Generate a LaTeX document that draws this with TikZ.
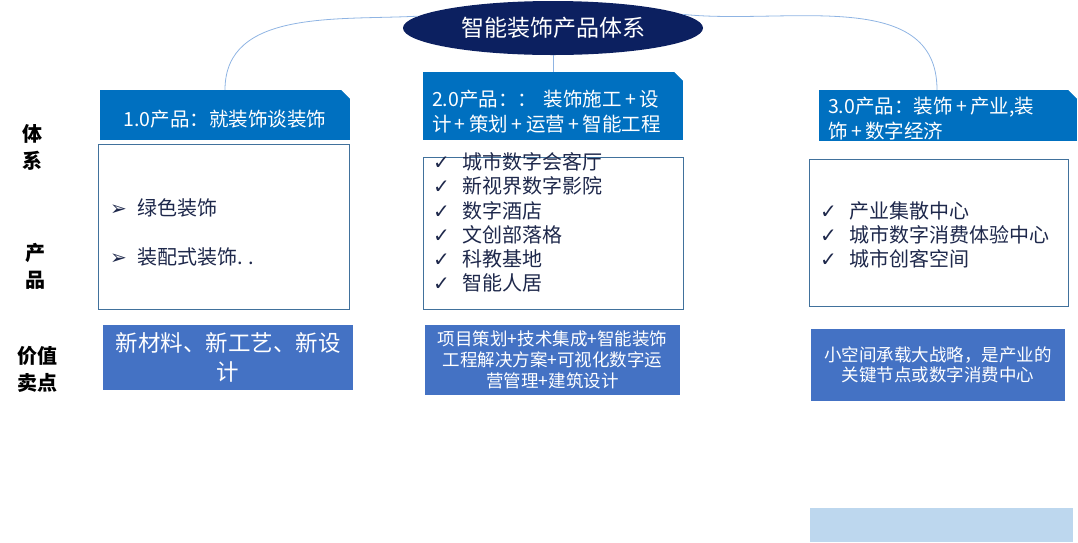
\documentclass[tikz,border=0pt]{standalone}
\usepackage{fontspec}
\setmainfont{Noto Sans CJK SC}
\newfontfamily\symfont{DejaVu Sans}
\usetikzlibrary{shapes.geometric}
\definecolor{titleblue}{RGB}{12,32,96}
\definecolor{headblue}{RGB}{0,112,192}
\definecolor{valueblue}{RGB}{68,114,196}
\definecolor{edgeblue}{RGB}{65,113,156}
\definecolor{linkblue}{RGB}{143,180,227}
\definecolor{footblue}{RGB}{189,215,238}
\definecolor{itemtext}{RGB}{30,40,75}
\newcommand{\chk}{\makebox[29pt][l]{\symfont ✓}}
\newcommand{\arr}{\makebox[27pt][l]{\symfont ➢}}
\newcommand{\pl}{\hspace{3.5pt}+\hspace{3.5pt}}
\tikzset{
  head/.style={rectangle, fill=headblue, text=white, inner sep=0pt,
    font=\fontsize{19.5}{25}\selectfont},
  panel/.style={rectangle, draw=edgeblue, line width=0.8pt, fill=white, inner sep=0pt},
  value/.style={rectangle, fill=valueblue, text=white, inner sep=0pt, align=center},
  item/.style={inner sep=0pt, text=itemtext, font=\fontsize{20}{24}\selectfont},
  side/.style={inner sep=0pt, align=center, font=\fontsize{20}{27}\selectfont\bfseries},
  link/.style={linkblue, line width=0.8pt}
}
\begin{document}
\begin{tikzpicture}[x=1pt, y=-1pt]
  \useasboundingbox (0,0) rectangle (1078,542);
  % row labels
  \node[side] (lab1) at (33,147) {体\\系};
  \node[side] (lab2) at (35,266) {产\\品};
  \node[side] (lab3) at (37,369) {价值\\卖点};
  % title
  \node[ellipse, fill=titleblue, text=white, minimum width=300pt, minimum height=54pt,
    inner sep=0pt, font=\fontsize{23}{26}\selectfont] (title) at (553,28) {智能装饰产品体系};
  % headers
  \node[head, minimum width=250pt, minimum height=50pt] (h1) at (225,115)
    {\rule{0pt}{25pt}1.0产品：就装饰谈装饰};
  \node[head, minimum width=260pt, minimum height=68pt, text width=242pt, align=left]
    (h2) at (553,106) {\rule{0pt}{27pt}2.0产品：：\ 装饰施工\pl 设\\计\pl 策划\pl 运营\pl 智能工程};
  \node[head, minimum width=258pt, minimum height=51pt, text width=240pt, align=left]
    (h3) at (948,115.5) {\rule{0pt}{23pt}3.0产品：装饰\pl 产业,装\\饰\pl 数字经济};
  \foreach \h in {h1,h2,h3}
    \fill[white] (\h.north east) -- ++(-9,0) -- ++(9,9) -- cycle;
  % links
  \begin{scope}[link]
    \draw (title.175) to[out=183,in=90] (h1.north);
    \draw (title.south) -- (h2.north);
    \draw (title.6) to[out=-6,in=90] (h3.north -| 937,0);
  \end{scope}
  % product panels
  \node[panel, minimum width=251pt, minimum height=165pt] (b1) at (223.5,226.5) {};
  \node[panel, minimum width=260pt, minimum height=152pt] (b2) at (553,233) {};
  \node[panel, minimum width=259pt, minimum height=147pt] (b3) at (938.5,232.5) {};
  \node[item, anchor=west] (p11) at (110,208) {\arr 绿色装饰};
  \node[item, anchor=west] (p12) at (110,257) {\arr 装配式装饰. .};
  \foreach \t [count=\i] in {城市数字会客厅,新视界数字影院,数字酒店,文创部落格,科教基地,智能人居}
    \node[item, anchor=west] (p2\i) at (433,{162+24.2*(\i-1)}) {\chk\t};
  \foreach \t [count=\i] in {产业集散中心,城市数字消费体验中心,城市创客空间}
    \node[item, anchor=west] (p3\i) at (820,{211+23.7*(\i-1)}) {\chk\t};
  % value boxes
  \node[value, minimum width=250pt, minimum height=65pt, font=\fontsize{22.5}{29}\selectfont]
    (v1) at (228,357.5) {新材料、新工艺、新设\\计};
  \node[value, minimum width=255pt, minimum height=70pt, font=\fontsize{17.5}{21}\selectfont]
    (v2) at (552.5,360) {项目策划+技术集成+智能装饰\\工程解决方案+可视化数字运\\营管理+建筑设计};
  \node[value, minimum width=254pt, minimum height=72pt, font=\fontsize{17.5}{20}\selectfont]
    (v3) at (938,365) {小空间承载大战略，是产业的\\关键节点或数字消费中心};
  \node[rectangle, fill=footblue, minimum width=263pt, minimum height=34pt, inner sep=0pt]
    (foot) at (941.5,525) {};
\end{tikzpicture}
\end{document}
